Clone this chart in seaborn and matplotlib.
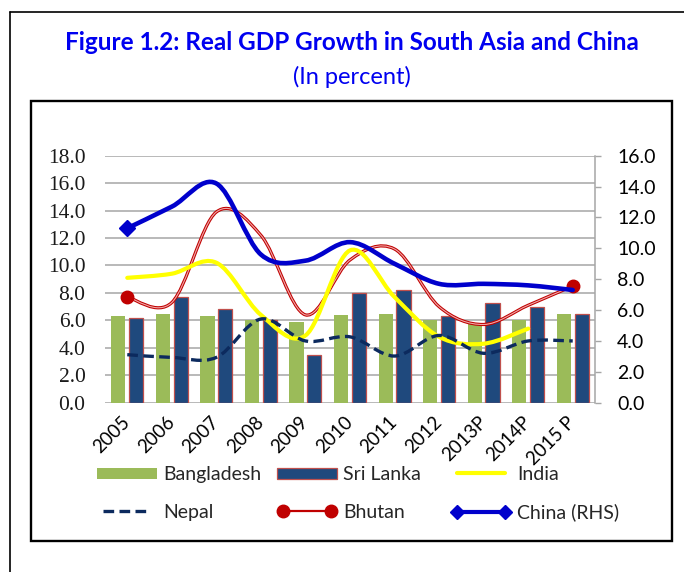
import numpy as np
import pandas as pd
import matplotlib
matplotlib.use('Agg')
import matplotlib.pyplot as plt
import matplotlib.patheffects as pe
import seaborn as sns
from matplotlib.path import Path
from matplotlib.patches import PathPatch, Patch, Rectangle
from matplotlib.lines import Line2D


# Data (percent)
years = ['2005', '2006', '2007', '2008', '2009', '2010', '2011', '2012', '2013P', '2014P', '2015 P']
bangladesh = [6.3, 6.5, 6.3, 6.0, 5.9, 6.4, 6.5, 6.0, 5.8, 6.0, 6.5]
sri_lanka = [6.2, 7.7, 6.8, 6.0, 3.5, 8.0, 8.2, 6.3, 7.3, 7.0, 6.5]
india = [9.1, 9.4, 10.2, 6.4, 4.9, 11.1, 7.7, 4.8, 4.3, 5.4]   # no 2015 value
nepal = [3.5, 3.3, 3.3, 6.1, 4.5, 4.8, 3.4, 4.9, 3.6, 4.5, 4.5]
bhutan = [7.7, 7.3, 13.9, 12.2, 6.4, 10.4, 11.2, 7.0, 5.7, 7.1, 8.5]
china = [11.3, 12.7, 14.2, 9.6, 9.2, 10.4, 9.0, 7.7, 7.7, 7.6, 7.3]   # right axis

GREEN = '#9BBB59'
NAVY = '#1F497D'
BAR_EDGE = '#C0504D'
YELLOW = '#FFFF00'
NEPAL_C = '#0C2A5E'
BHUTAN_C = '#C00000'
CHINA_C = '#0000CC'
GRID = '#A6A6A6'
TITLE_C = '#0000F0'


def smooth_path(xs, ys, t=1 / 6):
    """
    Excel-like smoothed line: Catmull-Rom segments as cubic Bezier curves
    """
    pts = np.column_stack([xs, ys]).astype(float)
    n = len(pts)
    verts, codes = [pts[0]], [Path.MOVETO]
    for i in range(n - 1):
        p0, p1 = pts[max(i - 1, 0)], pts[i]
        p2, p3 = pts[i + 1], pts[min(i + 2, n - 1)]
        verts += [p1 + (p2 - p0) * t, p2 - (p3 - p1) * t, p2]
        codes += [Path.CURVE4] * 3
    return Path(verts, codes)


sns.set_style('white')
plt.rcParams['font.family'] = ['Lato', 'DejaVu Sans']

W, H = 684, 572
fig = plt.figure(figsize=(W / 100, H / 100), dpi=100)
ax = fig.add_axes([105 / W, 1 - 402.7 / H, 490 / W, 247 / H])

# Bars
bars_df = pd.DataFrame({
    'year': years * 2,
    'country': ['Bangladesh'] * len(years) + ['Sri Lanka'] * len(years),
    'value': bangladesh + sri_lanka,
})
sns.barplot(data=bars_df, x='year', y='value', hue='country', order=years,
            hue_order=['Bangladesh', 'Sri Lanka'], palette=[GREEN, NAVY],
            saturation=1, width=0.8, gap=0.2, errorbar=None, legend=False, ax=ax, zorder=2)
for p in ax.containers[0]:
    p.set_edgecolor('none')
for p in ax.containers[1]:
    p.set_edgecolor(BAR_EDGE)
    p.set_linewidth(0.9)

x = np.arange(len(years))

# Smoothed lines on the left axis
bhutan_patch = PathPatch(smooth_path(x, bhutan), fill=False, ec='#EFA9A9', lw=0.8, zorder=4,
                         path_effects=[pe.Stroke(linewidth=2.3, foreground=BHUTAN_C), pe.Normal()])
ax.add_patch(bhutan_patch)
ax.plot(x[[0, -1]], np.array(bhutan)[[0, -1]], 'o', color=BHUTAN_C, ms=9, zorder=6)

ax.add_patch(PathPatch(smooth_path(x[:len(india)], india), fill=False, ec=YELLOW, lw=3.0,
                       capstyle='round', zorder=5))
ax.add_patch(PathPatch(smooth_path(x, nepal), fill=False, ec=NEPAL_C, lw=2.4,
                       linestyle=(0, (3.2, 1.6)), zorder=5))

ax.set_xlim(-0.5, len(years) - 0.5)
ax.set_ylim(0, 18)
ax.set_yticks(np.arange(0, 18.1, 2))
ax.set_yticklabels([f'{v:.1f}' for v in np.arange(0, 18.1, 2)], fontfamily='Liberation Serif',
                   fontsize=15.5, color='#1a1a1a')
ax.set_xticks(x)
ax.set_xticklabels(years, rotation=45, ha='right', va='center', rotation_mode='anchor',
                   fontsize=13.5, color='black')
ax.tick_params(axis='y', length=0, pad=14)
ax.tick_params(axis='x', length=0, pad=12)
ax.yaxis.grid(True, color=GRID, lw=1.1)
ax.set_axisbelow(True)
for s in ax.spines.values():
    s.set_visible(False)
ax.set_xlabel('')
ax.set_ylabel('')

# China on the right axis
ax2 = ax.twinx()
ax2.add_patch(PathPatch(smooth_path(x, china), fill=False, ec=CHINA_C, lw=3.3,
                        capstyle='round', zorder=5))
ax2.plot(x[:1], china[:1], 'D', color=CHINA_C, ms=8, zorder=6)
ax2.set_ylim(0, 16)
ax2.set_yticks(np.arange(0, 16.1, 2))
ax2.set_yticklabels([f'{v:.1f}' for v in np.arange(0, 16.1, 2)], fontsize=14, color='black')
ax2.tick_params(axis='y', direction='out', length=4, width=1, color=GRID, pad=12)
for name, s in ax2.spines.items():
    s.set_visible(name == 'right')
ax2.spines['right'].set_color(GRID)
ax2.spines['right'].set_linewidth(1.1)
ax2.grid(False)

# Legend: three columns placed like the original
leg_kw = dict(frameon=False, fontsize=14, handlelength=3.1, handleheight=0.55,
              handletextpad=0.3, labelspacing=1.05, borderpad=0, borderaxespad=0,
              numpoints=2, loc='center left')
col1 = [Patch(fc=GREEN, ec='none'), Line2D([], [], color=NEPAL_C, lw=2.4, ls=(0, (3.2, 1.6)))]
col2 = [Patch(fc=NAVY, ec=BAR_EDGE, lw=0.9),
        Line2D([], [], color=BHUTAN_C, lw=1.6, marker='o', ms=9)]
col3 = [Line2D([], [], color=YELLOW, lw=3.0),
        Line2D([], [], color=CHINA_C, lw=3.0, marker='D', ms=7, markevery=[0])]
ycen = 1 - 493.5 / H
fig.legend(col1, ['Bangladesh', 'Nepal'], bbox_to_anchor=(97 / W, ycen), **leg_kw)
fig.legend(col2, ['Sri Lanka', 'Bhutan'], bbox_to_anchor=(277 / W, ycen), **leg_kw)
fig.legend(col3, ['India', 'China (RHS)'], bbox_to_anchor=(451 / W, ycen), **leg_kw)

# Titles
fig.text(352 / W, 1 - 42 / H, 'Figure 1.2: Real GDP Growth in South Asia and China',
         ha='center', va='center', fontsize=17.5, fontweight='bold', color=TITLE_C)
fig.text(352 / W, 1 - 77 / H, '(In percent)', ha='center', va='center', fontsize=17,
         color=TITLE_C)

# Frames
fig.add_artist(Rectangle((31 / W, 1 - 541 / H), 641 / W, 440 / H, transform=fig.transFigure,
                         fill=False, ec='black', lw=1.7))
fig.add_artist(Line2D([10 / W, 10 / W], [0, 1 - 12 / H], transform=fig.transFigure,
                      color='black', lw=1.2))
fig.add_artist(Line2D([10 / W, 1], [1 - 12 / H, 1 - 12 / H], transform=fig.transFigure,
                      color='black', lw=1.2))

fig.savefig('out.png', dpi=100)
